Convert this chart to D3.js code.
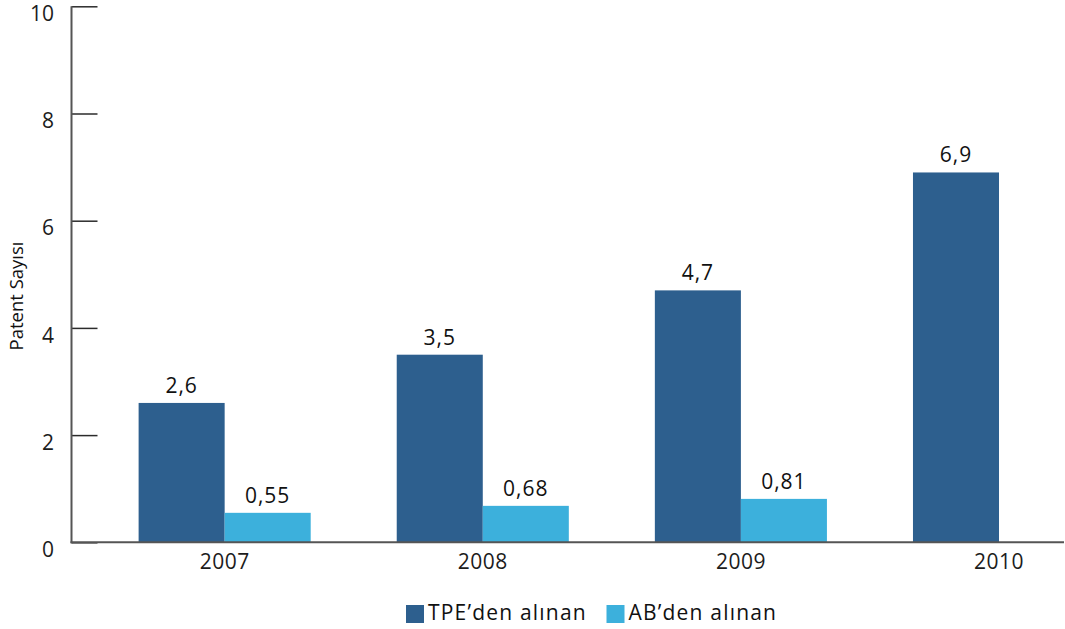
<!DOCTYPE html>
<html>
<head>
<meta charset="utf-8">
<script src="https://cdn.jsdelivr.net/npm/d3@7"></script>
<style>
  body { margin: 0; background: #fff; }
  svg { display: block; font-family: "Open Sans", sans-serif; }
</style>
</head>
<body>
<svg id="chart" width="1065" height="629"></svg>
<script>
// Patent counts by year
const years = ["2007", "2008", "2009", "2010"];
const seriesNames = ["TPE’den alınan", "AB’den alınan"];
const tpeValues = [2.6, 3.5, 4.7, 6.9];
const abValues = [0.55, 0.68, 0.81, null];
const tpeLabels = ["2,6", "3,5", "4,7", "6,9"];
const abLabels = ["0,55", "0,68", "0,81", null];
const yTicks = [0, 2, 4, 6, 8, 10];
const colors = ["#2d5f8e", "#3cb0dc"];

const svg = d3.select("#chart");
const axisX = 71.5, axisEnd = 1064;
const yTop = 6.3, yBottom = 542.3;

const y = d3.scaleLinear().domain([0, 10]).range([yBottom, yTop]);
const x = d3.scaleBand().domain(years)
  .range([axisX, axisX + 258.1 * 4.187])
  .paddingInner(1 / 3).paddingOuter(0.26);
const xs = d3.scaleBand().domain(seriesNames).range([0, x.bandwidth()]);

// y axis: ticks pointing into the plot
const yAxis = svg.append("g").attr("transform", `translate(${axisX},0)`)
  .call(d3.axisRight(y).tickValues(yTicks).tickSize(26).tickFormat(""));
yAxis.select(".domain").remove();
yAxis.selectAll(".tick line").attr("stroke", "#2b2b2b").attr("stroke-width", 1.5);
svg.append("line").attr("x1", axisX).attr("x2", axisX)
  .attr("y1", y(10)).attr("y2", yBottom + 1)
  .attr("stroke", "#555").attr("stroke-width", 2);

svg.append("g").selectAll("text").data(yTicks).join("text")
  .attr("x", 54).attr("y", d => y(d) + 9)
  .attr("text-anchor", "end").attr("dominant-baseline", "middle")
  .attr("font-size", 21).attr("fill", "#1c1c1c")
  .text(d => d);

// bars
const rows = years.map((yr, i) => ({
  year: yr,
  vals: [
    { s: seriesNames[0], v: tpeValues[i], lab: tpeLabels[i], c: colors[0] },
    { s: seriesNames[1], v: abValues[i], lab: abLabels[i], c: colors[1] }
  ].filter(d => d.v != null)
}));

const groups = svg.append("g").selectAll("g").data(rows).join("g")
  .attr("transform", d => `translate(${x(d.year)},0)`);
groups.selectAll("rect").data(d => d.vals).join("rect")
  .attr("x", d => xs(d.s)).attr("width", xs.bandwidth())
  .attr("y", d => y(d.v)).attr("height", d => y(0) - y(d.v))
  .attr("fill", d => d.c);
groups.selectAll("text").data(d => d.vals).join("text")
  .attr("x", d => xs(d.s) + xs.bandwidth() / 2)
  .attr("y", d => y(d.v) - 10)
  .attr("text-anchor", "middle").attr("font-size", 21)
  .attr("letter-spacing", 1).attr("fill", "#111")
  .text(d => d.lab);

// x axis line and labels
svg.append("line").attr("x1", axisX - 1).attr("x2", axisEnd)
  .attr("y1", yBottom).attr("y2", yBottom)
  .attr("stroke", "#555").attr("stroke-width", 2);
svg.append("g").selectAll("text").data(years).join("text")
  .attr("x", d => x(d) + x.bandwidth() / 2).attr("y", 563)
  .attr("text-anchor", "middle").attr("dominant-baseline", "middle")
  .attr("font-size", 21).attr("letter-spacing", 0.5).attr("fill", "#1c1c1c")
  .text(d => d);

// y axis title
svg.append("text")
  .attr("transform", "translate(18,296) rotate(-90)")
  .attr("text-anchor", "middle").attr("dominant-baseline", "middle")
  .attr("font-size", 18.5).attr("fill", "#111")
  .text("Patent Sayısı");

// legend
const legendX = [406, 606.5];
const legend = svg.append("g").selectAll("g").data(seriesNames).join("g")
  .attr("transform", (d, i) => `translate(${legendX[i]},605)`);
legend.append("rect").attr("width", 18).attr("height", 18)
  .attr("fill", (d, i) => colors[i]);
legend.append("text").attr("x", 22).attr("y", 9.5)
  .attr("dominant-baseline", "middle").attr("font-size", 21)
  .attr("letter-spacing", 1.2).attr("fill", "#111")
  .text(d => d);
</script>
</body>
</html>
